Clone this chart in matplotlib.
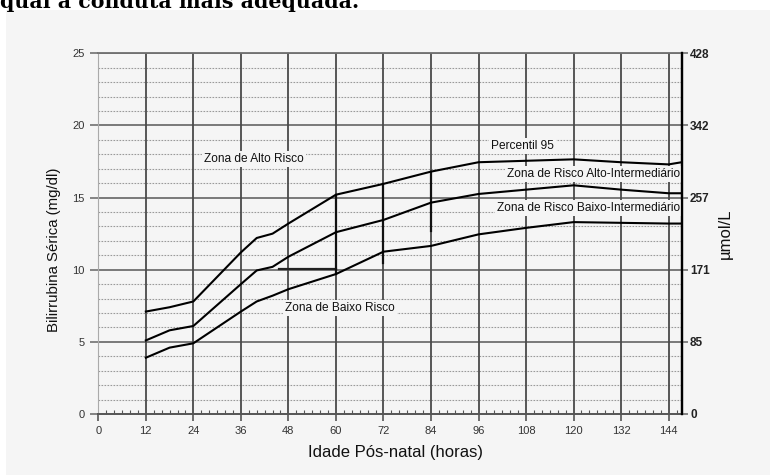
# -*- coding: utf-8 -*-
# Nomograma de bilirrubina (zonas de risco por idade pós-natal)

import matplotlib
matplotlib.use('Agg')
import matplotlib.pyplot as plt
from matplotlib.patches import Rectangle

# dados
horas = [12, 18, 24, 36, 40, 44, 48, 60, 72, 84, 96, 108, 120, 132, 144, 147.3]
p95 = [7.1, 7.4, 7.8, 11.2, 12.2, 12.5, 13.2, 15.2, 15.95, 16.8, 17.45, 17.55, 17.65, 17.45, 17.3, 17.45]
p75 = [5.1, 5.8, 6.1, 9.0, 9.95, 10.2, 10.9, 12.6, 13.45, 14.65, 15.25, 15.55, 15.85, 15.55, 15.3, 15.3]
p40 = [3.9, 4.6, 4.9, 7.1, 7.8, 8.2, 8.65, 9.7, 11.25, 11.65, 12.45, 12.9, 13.3, 13.25, 13.2, 13.2]

xticks = list(range(0, 145, 12))
yticks = [0, 5, 10, 15, 20, 25]
umol_labels = ['0', '85', '171', '257', '342', '428']

# tracos escuros do original (linhas de leitura)
traco_h = [(45.5, 60.0, 10.05)]
traco_v = [(60, 9.7, 15.2), (72, 10.5, 15.95), (84, 12.7, 16.8)]

# rotulos das zonas: texto, x, y, alinhamento
zonas = [
    ('Zona de Alto Risco', 39.3, 17.7, 'center'),
    ('Percentil 95', 107.0, 18.55, 'center'),
    ('Zona de Risco Alto-Intermediário', 147.0, 16.65, 'right'),
    ('Zona de Risco Baixo-Intermediário', 147.0, 14.3, 'right'),
    ('Zona de Baixo Risco', 61.0, 7.35, 'center'),
]

BG = '#f5f5f5'
plt.rcParams['font.family'] = ['Liberation Sans', 'DejaVu Sans']

fig = plt.figure(figsize=(7.7, 4.75), dpi=100)
fig.patch.set_facecolor(BG)
# faixa branca de cima e da esquerda (recorte da pagina)
fig.patches.append(Rectangle((0, 465 / 475), 1, 10 / 475, transform=fig.transFigure,
                             facecolor='white', edgecolor='none', zorder=0))
fig.patches.append(Rectangle((0, 0), 6 / 770, 1, transform=fig.transFigure,
                             facecolor='white', edgecolor='none', zorder=0))
fig.text(0.0, (475 - 8) / 475, 'qual a conduta mais adequada.', family='DejaVu Serif',
         fontweight='bold', fontsize=14.8, ha='left', va='baseline', color='black')

ax = fig.add_axes([98.3 / 770, 61 / 475, (681.7 - 98.3) / 770, (421.7 - 61) / 475])
ax.set_facecolor(BG)
ax.set_xlim(0, 147.3)
ax.set_ylim(0, 25)

# grade secundaria pontilhada
for v in range(1, 25):
    if v % 5:
        ax.axhline(v, color='#9a9a9a', lw=0.8, ls=(0, (1.5, 1.2)), zorder=1)
# grade principal
for v in yticks[1:]:
    ax.axhline(v, color='#707070', lw=1.3, zorder=1)
for h in xticks[1:]:
    ax.axvline(h, color='#4a4a4a', lw=1.3, zorder=1)

for x0, x1, y in traco_h:
    ax.plot([x0, x1], [y, y], color='#222222', lw=1.6, zorder=2)
for x, y0, y1 in traco_v:
    ax.plot([x, x], [y0, y1], color='#111111', lw=1.6, zorder=2)

for serie in (p95, p75, p40):
    ax.plot(horas, serie, color='black', lw=1.5, zorder=4)

for txt, x, y, ha in zonas:
    ax.text(x, y, txt, fontsize=8.6, ha=ha, va='center', color='#111111', zorder=3,
            bbox=dict(facecolor=BG, edgecolor='none', pad=1.5))

# eixos
ax.set_xticks(xticks)
ax.set_xticks(range(0, 148, 2), minor=True)
ax.set_yticks(yticks)
ax.tick_params(axis='x', which='major', direction='out', length=5, width=1.2,
               color='#555555', labelsize=8, labelcolor='#333333', pad=4)
ax.tick_params(axis='x', which='minor', direction='in', length=3, width=0.8, color='#555555')
ax.tick_params(axis='y', which='major', direction='out', length=6, width=1.2,
               color='#707070', labelsize=8, labelcolor='#333333', pad=4)

ax.spines['left'].set_color('#aaaaaa')
ax.spines['left'].set_linewidth(0.8)
ax.spines['bottom'].set_color('#555555')
ax.spines['bottom'].set_linewidth(1.4)
ax.spines['top'].set_color('#707070')
ax.spines['top'].set_linewidth(1.3)
ax.spines['right'].set_color('black')
ax.spines['right'].set_linewidth(1.6)

ax.set_xlabel('Idade Pós-natal (horas)', fontsize=12, color='#111111')
ax.xaxis.set_label_coords(0.51, -0.086)
ax.set_ylabel('Bilirrubina Sérica (mg/dl)', fontsize=10.8, color='#111111')
ax.yaxis.set_label_coords(-0.064, 0.456)

ax2 = ax.twinx()
ax2.set_ylim(0, 25)
ax2.set_yticks(yticks)
ax2.set_yticklabels(umol_labels, fontweight='bold')
ax2.tick_params(axis='y', direction='out', length=4, width=1.2, color='#707070',
                labelsize=8.5, labelcolor='#222222', pad=2)
for s in ('left', 'top', 'bottom'):
    ax2.spines[s].set_visible(False)
ax2.spines['right'].set_color('black')
ax2.spines['right'].set_linewidth(1.6)
ax2.set_ylabel('µmol/L', fontsize=12, color='#111111', rotation=90, labelpad=6)

fig.savefig('out.png', dpi=100, facecolor=fig.get_facecolor())
